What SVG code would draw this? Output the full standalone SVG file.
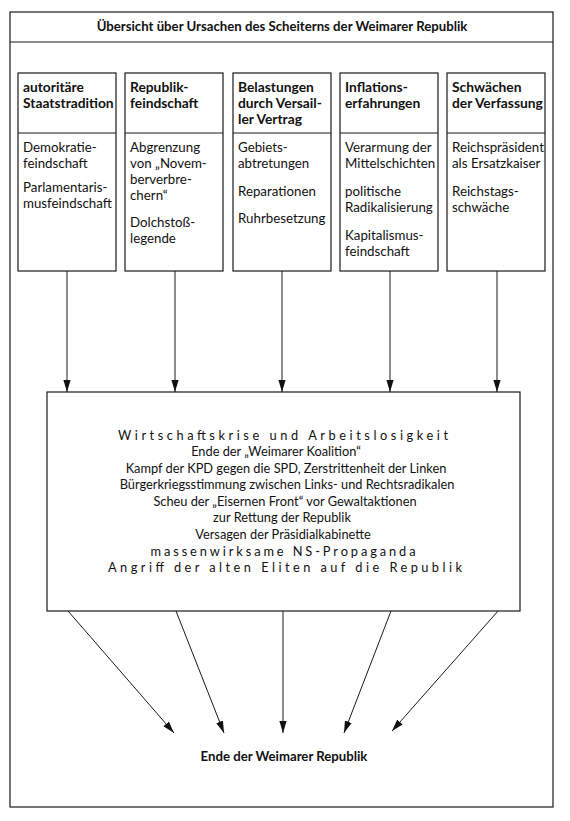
<svg xmlns="http://www.w3.org/2000/svg" width="570" height="821" viewBox="0 0 570 821">
<style>
  .frame { fill: none; stroke: #1a1a1a; stroke-width: 1.2; }
  .box { fill: #ffffff; stroke: #1a1a1a; stroke-width: 1.2; }
  .sep { stroke: #1a1a1a; stroke-width: 1.2; }
  .hd { font-family: Lato, "Open Sans", sans-serif; font-weight: bold; font-size: 13.8px; fill: #111; }
  .tx { font-family: Lato, "Open Sans", sans-serif; font-size: 13.3px; fill: #111; }
  .ct { font-family: Lato, "Open Sans", sans-serif; font-size: 12.8px; fill: #111; text-anchor: middle; }
  .title { font-family: Lato, "Open Sans", sans-serif; font-weight: bold; font-size: 13.2px; fill: #111; text-anchor: middle; }
  .conn line { stroke: #1a1a1a; stroke-width: 1; marker-end: url(#arr); }
</style>
<defs>
  <marker id="arr" viewBox="0 0 12 12" refX="12" refY="6" markerWidth="12" markerHeight="12" markerUnits="userSpaceOnUse" orient="auto">
    <path d="M0,2.4 L12,6 L0,9.6 Z" fill="#111"/>
  </marker>
</defs>
<rect width="570" height="821" fill="#ffffff"/>
<g id="frame">
  <rect class="frame" x="10" y="12" width="543" height="795"/>
  <line class="sep" x1="10" y1="42" x2="553" y2="42"/>
  <text class="title" x="282" y="31">Übersicht über Ursachen des Scheiterns der Weimarer Republik</text>
</g>
<g id="box1">
  <rect class="box" x="18" y="73" width="98" height="198"/>
  <line class="sep" x1="18" y1="133" x2="116" y2="133"/>
  <text class="hd" x="23" y="92">autoritäre</text>
  <text class="hd" x="23" y="108">Staatstradition</text>
  <text class="tx" x="23" y="152">Demokratie-</text>
  <text class="tx" x="23" y="168">feindschaft</text>
  <text class="tx" x="23" y="192">Parlamentaris-</text>
  <text class="tx" x="23" y="208">musfeindschaft</text>
</g>
<g id="box2">
  <rect class="box" x="125" y="73" width="98" height="198"/>
  <line class="sep" x1="125" y1="133" x2="223" y2="133"/>
  <text class="hd" x="130" y="92">Republik-</text>
  <text class="hd" x="130" y="108">feindschaft</text>
  <text class="tx" x="130" y="152">Abgrenzung</text>
  <text class="tx" x="130" y="168">von „Novem-</text>
  <text class="tx" x="130" y="184">berverbre-</text>
  <text class="tx" x="130" y="200">chern“</text>
  <text class="tx" x="130" y="227">Dolchstoß-</text>
  <text class="tx" x="130" y="243">legende</text>
</g>
<g id="box3">
  <rect class="box" x="233" y="73" width="98" height="198"/>
  <line class="sep" x1="233" y1="133" x2="331" y2="133"/>
  <text class="hd" x="238" y="92">Belastungen</text>
  <text class="hd" x="238" y="108">durch Versail-</text>
  <text class="hd" x="238" y="124">ler Vertrag</text>
  <text class="tx" x="238" y="152">Gebiets-</text>
  <text class="tx" x="238" y="168">abtretungen</text>
  <text class="tx" x="238" y="196">Reparationen</text>
  <text class="tx" x="238" y="223">Ruhrbesetzung</text>
</g>
<g id="box4">
  <rect class="box" x="340" y="73" width="98" height="198"/>
  <line class="sep" x1="340" y1="133" x2="438" y2="133"/>
  <text class="hd" x="345" y="92">Inflations-</text>
  <text class="hd" x="345" y="108">erfahrungen</text>
  <text class="tx" x="345" y="152">Verarmung der</text>
  <text class="tx" x="345" y="168">Mittelschichten</text>
  <text class="tx" x="345" y="196">politische</text>
  <text class="tx" x="345" y="212">Radikalisierung</text>
  <text class="tx" x="345" y="240">Kapitalismus-</text>
  <text class="tx" x="345" y="256">feindschaft</text>
</g>
<g id="box5">
  <rect class="box" x="447" y="73" width="98" height="198"/>
  <line class="sep" x1="447" y1="133" x2="545" y2="133"/>
  <text class="hd" x="452" y="92">Schwächen</text>
  <text class="hd" x="452" y="108">der Verfassung</text>
  <text class="tx" x="452" y="152">Reichspräsident</text>
  <text class="tx" x="452" y="168">als Ersatzkaiser</text>
  <text class="tx" x="452" y="196">Reichstags-</text>
  <text class="tx" x="452" y="212">schwäche</text>
</g>
<g id="center">
  <rect class="box" x="47" y="392" width="473" height="219"/>
  <text class="ct" x="283" y="440" textLength="330" lengthAdjust="spacing">Wirtschaftskrise und Arbeitslosigkeit</text>
  <text class="ct" x="276" y="456">Ende der „Weimarer Koalition“</text>
  <text class="ct" x="286" y="473">Kampf der KPD gegen die SPD, Zerstrittenheit der Linken</text>
  <text class="ct" x="287" y="489">Bürgerkriegsstimmung zwischen Links- und Rechtsradikalen</text>
  <text class="ct" x="285" y="506">Scheu der „Eisernen Front“ vor Gewaltaktionen</text>
  <text class="ct" x="282" y="522">zur Rettung der Republik</text>
  <text class="ct" x="283" y="539">Versagen der Präsidialkabinette</text>
  <text class="ct" x="283" y="556" textLength="265" lengthAdjust="spacing">massenwirksame NS-Propaganda</text>
  <text class="ct" x="285" y="572" textLength="354" lengthAdjust="spacing">Angriff der alten Eliten auf die Republik</text>
</g>
<g id="result">
  <text class="title" x="284" y="761">Ende der Weimarer Republik</text>
</g>
<g id="connectors" class="conn">
  <line x1="67" y1="271" x2="67" y2="392"/>
  <line x1="175" y1="271" x2="175" y2="392"/>
  <line x1="282" y1="271" x2="282" y2="392"/>
  <line x1="390" y1="271" x2="390" y2="392"/>
  <line x1="497" y1="271" x2="497" y2="392"/>
  <line x1="68" y1="611" x2="174" y2="733"/>
  <line x1="176" y1="611" x2="224" y2="733"/>
  <line x1="283" y1="611" x2="283" y2="733"/>
  <line x1="391" y1="611" x2="344" y2="733"/>
  <line x1="498" y1="611" x2="392" y2="731"/>
</g>
</svg>
